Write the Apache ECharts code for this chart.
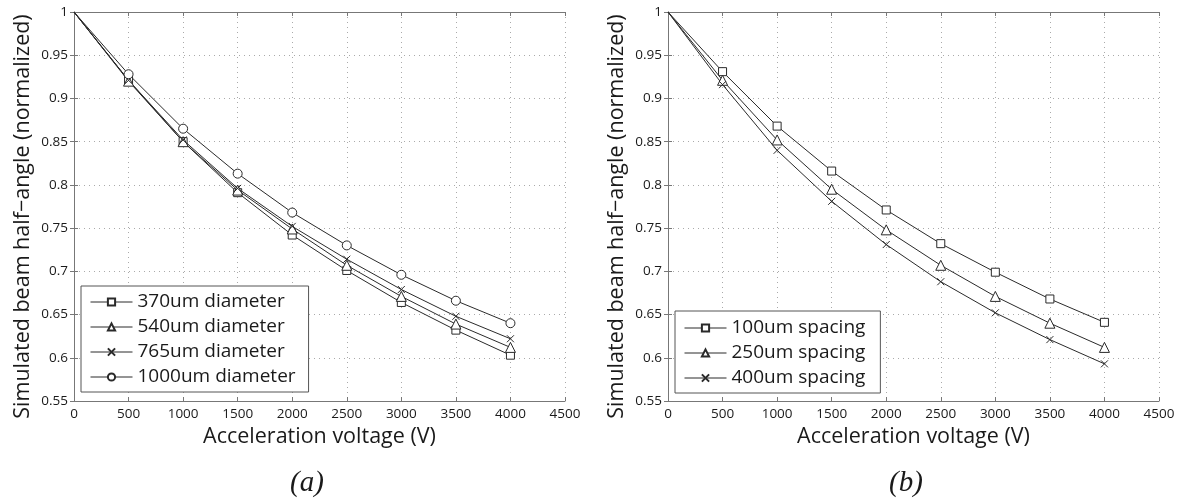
<!DOCTYPE html>
<html>
<head>
<meta charset="utf-8">
<script src="https://cdn.jsdelivr.net/npm/echarts@6/dist/echarts.min.js"></script>
<style>
html,body{margin:0;padding:0;background:#fff;}
#chart{width:1180px;height:502px;}
</style>
</head>
<body>
<div id="chart"></div>
<script>
// ---- data ----
var voltages = [0, 500, 1000, 1500, 2000, 2500, 3000, 3500, 4000];
var xTicks = [0, 500, 1000, 1500, 2000, 2500, 3000, 3500, 4000, 4500];
var yTicks = [0.55, 0.6, 0.65, 0.7, 0.75, 0.8, 0.85, 0.9, 0.95, 1];

var namesA = ['370um diameter', '540um diameter', '765um diameter', '1000um diameter'];
var a370  = [1, 0.921, 0.850, 0.791, 0.742, 0.701, 0.664, 0.632, 0.603];
var a540  = [1, 0.920, 0.850, 0.794, 0.749, 0.707, 0.671, 0.639, 0.612];
var a765  = [1, 0.921, 0.852, 0.796, 0.752, 0.714, 0.679, 0.648, 0.622];
var a1000 = [1, 0.928, 0.865, 0.813, 0.768, 0.730, 0.696, 0.666, 0.640];

var namesB = ['100um spacing', '250um spacing', '400um spacing'];
var b100 = [1, 0.931, 0.868, 0.816, 0.771, 0.732, 0.699, 0.668, 0.641];
var b250 = [1, 0.921, 0.852, 0.795, 0.748, 0.707, 0.671, 0.640, 0.612];
var b400 = [1, 0.916, 0.840, 0.781, 0.731, 0.688, 0.652, 0.621, 0.593];

var xAxisTitle = 'Acceleration voltage (V)';
var yAxisTitle = 'Simulated beam half\u2212angle (normalized)';
var captions = ['(a)', '(b)'];

// ---- styling ----
var FONT = '"Open Sans"';
var TXT = '#1a1a1a';
var LINE = '#2a2a2a';
var FRAME = '#777';
var XMARK = 'path://M0,0L10,10M0,10L10,0';

function pts(vals) {
  return voltages.map(function (v, i) {
    var d = { value: [v, vals[i]] };
    if (v === 0) d.symbol = 'none';
    return d;
  });
}

function mkSeries(name, vals, grid, symbol, size) {
  return {
    name: name, type: 'line',
    xAxisIndex: grid * 2, yAxisIndex: grid * 2,
    data: pts(vals),
    symbol: symbol, symbolSize: size,
    showAllSymbol: true,
    lineStyle: { color: LINE, width: 1 },
    itemStyle: { color: '#fff', borderColor: LINE, borderWidth: 1 },
    emphasis: { disabled: true },
    animation: false, z: 3
  };
}

function fmtY(v) { return String(+v.toFixed(2)); }
function fmtX(v) { return String(Math.round(v)); }

var grids = [
  { left: 74, top: 12, width: 491, height: 389 },
  { left: 668, top: 12, width: 491, height: 389 }
];

var xAxes = [], yAxes = [];
[0, 1].forEach(function (g) {
  xAxes.push({
    type: 'value', gridIndex: g, position: 'bottom',
    min: xTicks[0], max: xTicks[xTicks.length - 1], interval: 500,
    name: xAxisTitle, nameLocation: 'middle', nameGap: 24,
    nameTextStyle: { fontFamily: FONT, fontSize: 21.5, color: TXT },
    axisLine: { show: true, lineStyle: { color: FRAME, width: 1 } },
    axisTick: { show: true, inside: true, length: 4, lineStyle: { color: FRAME } },
    axisLabel: { fontFamily: FONT, fontSize: 13.5, color: TXT, margin: 6, formatter: fmtX },
    splitLine: { show: true, lineStyle: { color: '#aaa', type: [1, 4], width: 1 } }
  });
  xAxes.push({
    type: 'value', gridIndex: g, position: 'top',
    min: xTicks[0], max: xTicks[xTicks.length - 1], interval: 500,
    axisLine: { show: true, lineStyle: { color: FRAME, width: 1 } },
    axisTick: { show: true, inside: true, length: 4, lineStyle: { color: FRAME } },
    axisLabel: { show: false }, splitLine: { show: false }
  });
  yAxes.push({
    type: 'value', gridIndex: g, position: 'left',
    min: yTicks[0], max: yTicks[yTicks.length - 1], interval: 0.05,
    name: yAxisTitle, nameLocation: 'middle', nameGap: 40, nameRotate: 90,
    nameTextStyle: { fontFamily: FONT, fontSize: 21.5, color: TXT, padding: [0, 20, 0, 0] },
    axisLine: { show: true, lineStyle: { color: FRAME, width: 1 } },
    axisTick: { show: true, inside: true, length: 4, lineStyle: { color: FRAME } },
    axisLabel: { fontFamily: FONT, fontSize: 13.5, color: TXT, margin: 6, formatter: fmtY },
    splitLine: { show: true, lineStyle: { color: '#aaa', type: [1, 4], width: 1 } }
  });
  yAxes.push({
    type: 'value', gridIndex: g, position: 'right',
    min: yTicks[0], max: yTicks[yTicks.length - 1], interval: 0.05,
    axisLine: { show: true, lineStyle: { color: FRAME, width: 1 } },
    axisTick: { show: true, inside: true, length: 4, lineStyle: { color: FRAME } },
    axisLabel: { show: false }, splitLine: { show: false }
  });
});

var series = [
  mkSeries(namesA[0], a370, 0, 'rect', 8),
  mkSeries(namesA[1], a540, 0, 'triangle', 10),
  mkSeries(namesA[2], a765, 0, XMARK, 7),
  mkSeries(namesA[3], a1000, 0, 'circle', 9),
  mkSeries(namesB[0], b100, 1, 'rect', 8),
  mkSeries(namesB[1], b250, 1, 'triangle', 10),
  mkSeries(namesB[2], b400, 1, XMARK, 7)
];

var legendCommon = {
  orient: 'vertical',
  itemWidth: 42, itemHeight: 9, itemGap: 5,
  borderColor: '#555', borderWidth: 1, borderRadius: 0,
  backgroundColor: '#fff',
  lineStyle: { width: 1 },
  textStyle: { fontFamily: FONT, fontSize: 19, color: TXT, lineHeight: 20 },
  selectedMode: false
};

var chart = echarts.init(document.getElementById('chart'), null, { renderer: 'canvas' });
chart.setOption({
  animation: false,
  backgroundColor: '#fff',
  grid: grids,
  xAxis: xAxes,
  yAxis: yAxes,
  legend: [
    Object.assign({}, legendCommon, { data: namesA, left: 81, top: 286, padding: [6, 13, 5, 9] }),
    Object.assign({}, legendCommon, { data: namesB, left: 675, top: 311, padding: [7, 15, 5, 9] })
  ],
  series: series,
  graphic: [
    { type: 'text', x: 307, y: 483, style: { text: captions[0], font: 'italic 29px "Liberation Serif"', fill: TXT, align: 'center', verticalAlign: 'middle' } },
    { type: 'text', x: 906, y: 483, style: { text: captions[1], font: 'italic 29px "Liberation Serif"', fill: TXT, align: 'center', verticalAlign: 'middle' } }
  ]
});
</script>
</body>
</html>
